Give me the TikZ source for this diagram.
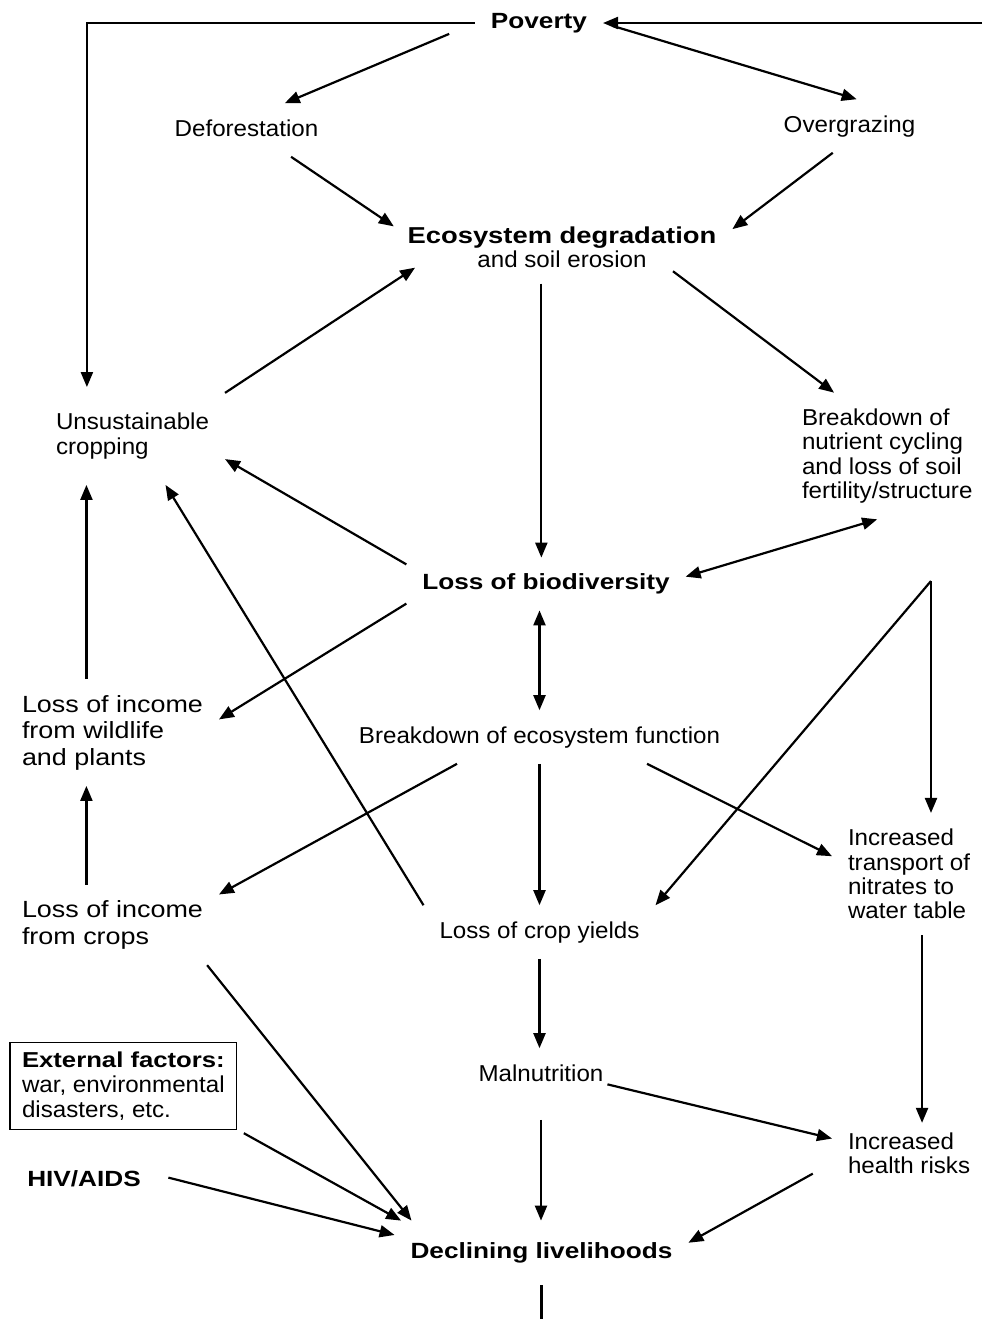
\documentclass[tikz,border=0pt]{standalone}
\usepackage{fontspec}
\usepackage{tikz}
\usetikzlibrary{arrows.meta, positioning}

\newfontfamily\regfont{Liberation Sans}[FakeStretch=1.05]
\newfontfamily\widefont{Liberation Sans}[FakeStretch=1.15]
\newfontfamily\headfont{Liberation Sans}[FakeStretch=1.19]

\tikzset{
  lbl/.style={font={\regfont\fontsize{11.5}{12.2}\selectfont}, inner sep=8pt, outer sep=0pt,
    text height=8.4pt, text depth=2.4pt},
  multi/.style={font={\regfont\fontsize{11.5}{12.2}\selectfont}, align=left, inner sep=8pt,
    outer sep=0pt, anchor=west},
  big/.style={font={\widefont\fontsize{11.7}{13.25}\selectfont}, align=left, inner sep=8pt,
    outer sep=0pt, anchor=west},
  head/.style={font={\headfont\bfseries\fontsize{11}{12.2}\selectfont}, inner sep=8pt,
    outer sep=0pt, text height=8.1pt, text depth=2.3pt},
  arr/.style={-{Triangle[length=7.5pt,width=6pt]}, line width=1.1pt},
  arr2/.style={{Triangle[length=7.5pt,width=6pt]}-{Triangle[length=7.5pt,width=6pt]},
    line width=1.1pt}
}

\begin{document}
\begin{tikzpicture}[x=0.5pt, y=-0.5pt]
      \useasboundingbox (0,0) rectangle (982,1319);

      % Define points
      \coordinate (rim) at (982,23);
      \coordinate (fork) at (931,581);
      \coordinate (foot) at (541.5,1319);

      % Label nodes
      \node[head] (pov) at (539,23) {Poverty};
      \node[lbl] (defor) at (246.5,130) {Deforestation};
      \node[lbl] (overg) at (849.5,126) {Overgrazing};
      \node[font={\regfont\fontsize{11.5}{12.2}\selectfont}, align=center, inner xsep=8pt,
        inner ysep=0pt, outer sep=0pt] (eco) at (562,247)
        {{\headfont\bfseries Ecosystem degradation}\\and soil erosion};
      \node[multi, inner ysep=13pt] (unsust) at (40,436) {Unsustainable\\cropping};
      \node[multi] (nutr) at (786,456)
        {Breakdown of\\nutrient cycling\\and loss of soil\\fertility/structure};
      \node[head] (biod) at (546,584) {Loss of biodiversity};
      \node[big] (wild) at (6,732.5) {Loss of income\\from wildlife\\and plants};
      \node[lbl] (func) at (539.5,737) {Breakdown of ecosystem function};
      \node[multi] (nitr) at (832,874) {Increased\\transport of\\nitrates to\\water table};
      \node[big] (crops) at (6,925) {Loss of income\\from crops};
      \node[lbl] (yields) at (539.5,932) {Loss of crop yields};
      \node[lbl, inner xsep=2pt] (maln) at (541,1075) {Malnutrition};
      \node[draw, line width=0.6pt, font={\regfont\fontsize{11.5}{12.5}\selectfont},
        align=left, anchor=west, inner xsep=6pt, inner ysep=4.5pt, outer sep=0pt] (ext) at (10,1086)
        {{\headfont\bfseries\fontsize{10.8}{12.5}\selectfont External factors:}\\war, environmental\\disasters, etc.};
      \node[head] (hiv) at (84,1181) {HIV/AIDS};
      \node[multi, inner ysep=5pt] (health) at (832,1153.5) {Increased\\health risks};
      \node[head, inner ysep=11pt] (decl) at (541.5,1253) {Declining livelihoods};

      % Draw top part
      \draw[arr] (pov.west) -| (unsust.133);
      \draw[arr] (rim) -- (pov.east);
      \draw[arr, shorten <=14pt] (pov.west) -- (defor.35);
      \draw[arr, shorten <=5pt] (pov.east) -- (overg.75);
      \draw[arr] (defor.-31) -- (eco.173);
      \draw[arr] (overg.238) -- (eco.6);
      \draw[arr] (unsust.25) -- (eco.188);
      \draw[arr, shorten <=8pt] (eco.225) -- (eco.225 |- biod.north);
      \draw[arr, shorten <=3pt] (eco.-11) -- (nutr.130);

      % Draw middle part
      \draw[arr] (biod.172) -- (unsust.-14);
      \draw[arr] (yields.north west) -- (unsust.-56);
      \draw[arr] (wild.116) -- (wild.116 |- unsust.south);
      \draw[arr] (biod.188) -- (wild.7);
      \draw[arr2] (nutr.261) -- (biod.3);
      \draw[arr2] (func.north) -- (func.north |- biod.south);
      \draw[arr] (fork) -- (fork |- nitr.north);
      \draw[arr] (fork) -- (yields.north east);
      \draw[arr] (func.198) -- (crops.16);
      \draw[arr] (func.south) -- (yields.north);
      \draw[arr] (func.-14) -- (nitr.167);
      \draw[arr] (crops.123) -- (crops.123 |- wild.south);

      % Draw bottom part
      \draw[arr] (yields.south) -- (yields.south |- maln.north);
      \draw[arr] (nitr.-78) -- (nitr.-78 |- health.north);
      \draw[arr] (maln.-8) -- (health.169);
      \draw[arr] (crops.-23) -- (decl.166);
      \draw[arr, shorten <=4pt] (ext.south east) -- (decl.167);
      \draw[arr, shorten <=6pt] (hiv.5) -- (decl.173);
      \draw[arr, shorten <=9pt] (maln.south) -- (maln.south |- decl.north);
      \draw[arr, shorten <=11pt] (health.187) -- (decl.4);
      \draw[line width=1.1pt] (decl.south) -- (decl.south |- foot);
\end{tikzpicture}
\end{document}
